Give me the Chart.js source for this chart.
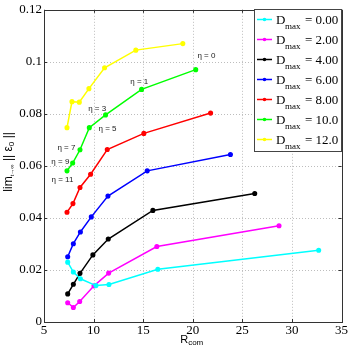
<!DOCTYPE html>
<html>
<head>
<meta charset="utf-8">
<script src="https://cdn.jsdelivr.net/npm/chart.js@4/dist/chart.umd.min.js"></script>
<style>
  html, body { margin: 0; padding: 0; background: #fff; }
  #wrap { width: 349px; height: 351px; }
</style>
</head>
<body>
<div id="wrap"><canvas id="chart" width="349" height="351"></canvas></div>
<script>
// values: R_com (x) and lim || eps_0 || (y)
const dmaxLabels = ["0.00", "2.00", "4.00", "6.00", "8.00", "10.0", "12.0"];
const colors = ["#00FFFF", "#FF00FF", "#000000", "#0000FF", "#FF0000", "#00FF00", "#FFFF00"];

const xD0 = [7.39, 7.96, 8.67, 10.24, 11.55, 16.48, 32.7];
const yD0 = [0.0230, 0.0192, 0.0166, 0.0140, 0.0144, 0.0203, 0.0276];
const xD2 = [7.39, 7.96, 8.60, 10.04, 11.52, 16.38, 28.7];
const yD2 = [0.0074, 0.0056, 0.0079, 0.0139, 0.0188, 0.0290, 0.0370];
const xD4 = [7.39, 7.96, 8.63, 9.93, 11.48, 15.98, 26.25];
const yD4 = [0.0108, 0.0145, 0.0187, 0.0258, 0.0319, 0.0429, 0.0494];
const xD6 = [7.39, 7.96, 8.67, 9.77, 11.45, 15.41, 23.8];
const yD6 = [0.0251, 0.0301, 0.0346, 0.0404, 0.0484, 0.0581, 0.0644];
const xD8 = [7.32, 7.92, 8.63, 9.70, 11.38, 15.07, 21.8];
const yD8 = [0.0422, 0.0455, 0.0517, 0.0568, 0.0663, 0.0725, 0.0803];
const xD10 = [7.32, 7.89, 8.63, 9.57, 11.21, 14.84, 20.3];
const yD10 = [0.0581, 0.0611, 0.0662, 0.0747, 0.0796, 0.0894, 0.0970];
const xD12 = [7.32, 7.82, 8.56, 9.53, 11.11, 14.26, 19.0];
const yD12 = [0.0747, 0.0847, 0.0845, 0.0897, 0.0977, 0.1045, 0.1070];

const seriesX = [xD0, xD2, xD4, xD6, xD8, xD10, xD12];
const seriesY = [yD0, yD2, yD4, yD6, yD8, yD10, yD12];

const xTicks = [5, 10, 15, 20, 25, 30, 35];
const yTicks = [0, 0.02, 0.04, 0.06, 0.08, 0.1, 0.12];
const yTickLabels = ["0", "0.02", "0.04", "0.06", "0.08", "0.1", "0.12"];

// eta annotations on the D_max = 10 curve
const etaText = ["η = 0", "η = 1", "η = 3", "η = 5", "η = 7", "η = 9", "η = 11"];
const etaX = [21.38, 14.61, 10.36, 11.41, 7.26, 6.65, 6.86];
const etaY = [0.1022, 0.0925, 0.0819, 0.0741, 0.0669, 0.0615, 0.0546];

const datasets = dmaxLabels.map((d, i) => ({
    label: d,
    data: seriesX[i].map((x, j) => ({ x: x, y: seriesY[i][j] })),
    borderColor: colors[i],
    backgroundColor: colors[i],
    borderWidth: 1.5,
    pointRadius: 1.8,
    pointHoverRadius: 1.8,
    showLine: true,
    tension: 0
}));

const serif = "'Liberation Serif', 'Times New Roman', serif";
const sans = "'Liberation Sans', Arial, sans-serif";

// dotted grid under the data
const dottedGrid = {
    id: "dottedGrid",
    beforeDatasetsDraw(chart) {
        const c = chart.ctx;
        const a = chart.chartArea;
        const xs = chart.scales.x, ys = chart.scales.y;
        c.save();
        c.strokeStyle = "#bdbdbd";
        c.lineWidth = 1;
        c.setLineDash([1, 2]);
        c.beginPath();
        xTicks.forEach(v => {
            const px = Math.round(xs.getPixelForValue(v)) + 0.5;
            c.moveTo(px, a.top); c.lineTo(px, a.bottom);
        });
        yTicks.forEach(v => {
            const py = Math.round(ys.getPixelForValue(v)) + 0.5;
            c.moveTo(a.left, py); c.lineTo(a.right, py);
        });
        c.stroke();
        c.restore();
    }
};

// frame, inward ticks, axis titles, eta labels and legend (MATLAB look)
const decor = {
    id: "decor",
    afterDatasetsDraw(chart) {
        const c = chart.ctx;
        const a = chart.chartArea;
        const xs = chart.scales.x, ys = chart.scales.y;
        c.save();

        // eta annotations
        c.fillStyle = "#222";
        c.font = "8px " + sans;
        c.textAlign = "center";
        c.textBaseline = "middle";
        etaText.forEach((t, i) => {
            c.fillText(t, xs.getPixelForValue(etaX[i]), ys.getPixelForValue(etaY[i]));
        });

        // box
        c.strokeStyle = "#333";
        c.lineWidth = 1;
        c.strokeRect(Math.round(a.left) + 0.5, Math.round(a.top) + 0.5,
            Math.round(a.right - a.left), Math.round(a.bottom - a.top));

        // inward ticks on all sides
        c.beginPath();
        xTicks.forEach(v => {
            const px = Math.round(xs.getPixelForValue(v)) + 0.5;
            c.moveTo(px, a.bottom); c.lineTo(px, a.bottom - 3);
            c.moveTo(px, a.top); c.lineTo(px, a.top + 3);
        });
        yTicks.forEach(v => {
            const py = Math.round(ys.getPixelForValue(v)) + 0.5;
            c.moveTo(a.left, py); c.lineTo(a.left + 3, py);
            c.moveTo(a.right, py); c.lineTo(a.right - 3, py);
        });
        c.stroke();

        // x title: R_com
        c.fillStyle = "#000";
        c.textAlign = "left";
        c.textBaseline = "alphabetic";
        c.font = "11px " + sans;
        const wR = c.measureText("R").width;
        c.font = "8px " + sans;
        const wCom = c.measureText("com").width;
        let x0 = (a.left + a.right) / 2 - (wR + wCom) / 2 - 1;
        c.font = "11px " + sans;
        c.fillText("R", x0, 343);
        c.font = "8px " + sans;
        c.fillText("com", x0 + wR, 345);

        // y title: lim_{t->inf} || eps_0 ||
        c.save();
        c.translate(12, (a.top + a.bottom) / 2 - 4);
        c.rotate(-Math.PI / 2);
        const parts = [
            ["lim", "12px " + sans, 0],
            ["t→∞", "6px " + sans, 2],
            [" || ε", "12px " + sans, 0],
            ["0", "8px " + sans, 2],
            [" ||", "12px " + sans, 0]
        ];
        let tw = 0;
        parts.forEach(p => { c.font = p[1]; tw += c.measureText(p[0]).width; });
        let cx = -tw / 2;
        parts.forEach(p => {
            c.font = p[1];
            c.fillText(p[0], cx, p[2]);
            cx += c.measureText(p[0]).width;
        });
        c.restore();

        // legend
        const lx = 254.5, ly = 9.5, lw = 87, lh = 142;
        c.fillStyle = "#fff";
        c.fillRect(lx, ly, lw, lh);
        c.strokeStyle = "#444";
        c.strokeRect(lx, ly, lw, lh);
        chart.data.datasets.forEach((ds, i) => {
            const ry = 19.5 + i * 20;
            c.strokeStyle = ds.borderColor;
            c.lineWidth = 1.5;
            c.beginPath();
            c.moveTo(257, ry); c.lineTo(272, ry);
            c.stroke();
            c.fillStyle = ds.borderColor;
            c.beginPath();
            c.arc(264.5, ry, 1.8, 0, Math.PI * 2);
            c.fill();
            c.fillStyle = "#000";
            c.font = "13px " + serif;
            c.fillText("D", 276, ry + 4);
            c.font = "9px " + serif;
            c.fillText("max", 285, ry + 9);
            c.font = "13px " + serif;
            c.fillText("= " + ds.label, 305, ry + 4);
        });

        c.restore();
    }
};

new Chart(document.getElementById("chart"), {
    type: "scatter",
    data: { datasets: datasets },
    options: {
        responsive: false,
        animation: false,
        events: [],
        layout: { padding: { left: 0, top: 7, right: 6, bottom: 0 } },
        plugins: {
            legend: { display: false },
            tooltip: { enabled: false }
        },
        scales: {
            x: {
                type: "linear",
                min: 5,
                max: 35,
                afterBuildTicks: s => { s.ticks = xTicks.map(v => ({ value: v })); },
                afterFit: s => { s.height = 29; },
                ticks: {
                    color: "#000",
                    padding: 1,
                    maxRotation: 0,
                    font: { family: serif, size: 13 },
                    callback: v => String(v)
                },
                grid: { display: false, drawTicks: false },
                border: { display: false }
            },
            y: {
                type: "linear",
                min: 0,
                max: 0.12,
                afterBuildTicks: s => { s.ticks = yTicks.map(v => ({ value: v })); },
                afterFit: s => { s.width = 44; },
                ticks: {
                    color: "#000",
                    padding: 2,
                    font: { family: serif, size: 13 },
                    callback: (v, i) => yTickLabels[i]
                },
                grid: { display: false, drawTicks: false },
                border: { display: false }
            }
        }
    },
    plugins: [dottedGrid, decor]
});
</script>
</body>
</html>
